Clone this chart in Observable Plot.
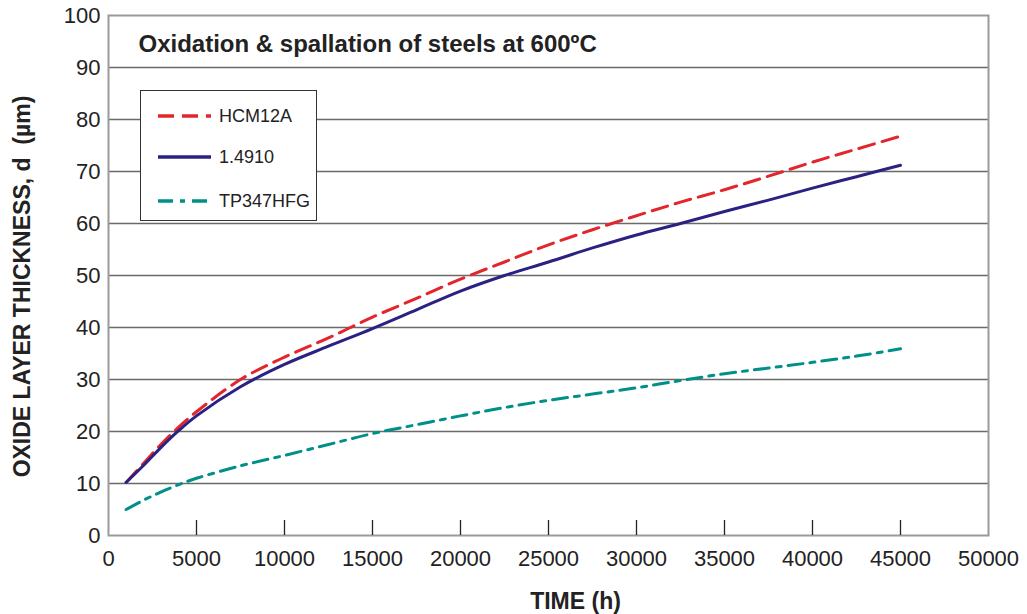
<!DOCTYPE html>
<html><head><meta charset="utf-8">
<script src="https://cdn.jsdelivr.net/npm/d3@7"></script>
<script src="https://cdn.jsdelivr.net/npm/@observablehq/plot@0.6"></script>
<style>
body{margin:0;background:#fff;font-family:"Liberation Sans",Arial,sans-serif;}
#wrap{position:relative;width:1027px;height:614px;overflow:hidden;}
#legend{position:absolute;left:140px;top:90px;width:175px;height:129px;background:#fff;border:1.6px solid #333;}
#legend .item{position:absolute;left:0;height:20px;display:flex;align-items:center;}
#legend svg{margin-left:17px;}
#legend span{margin-left:8px;font-size:18px;color:#222;}
</style></head><body><div id="wrap"></div>
<script>
const hours = [1000, 2000, 3000, 4000, 5000, 7500, 10000, 12500, 15000, 17500, 20000, 22500, 25000, 27500, 30000, 32500, 35000, 37500, 40000, 42500, 45000];
const hcm12a = [10.2, 13.9, 17.6, 20.9, 23.8, 30.0, 34.3, 38.0, 42.0, 45.6, 49.3, 52.6, 55.9, 58.8, 61.5, 64.1, 66.5, 69.1, 71.8, 74.3, 76.8];
const steel14910 = [10.2, 13.5, 17.0, 20.2, 23.0, 28.6, 32.9, 36.4, 39.8, 43.4, 47.0, 50.0, 52.6, 55.3, 57.8, 60.0, 62.3, 64.5, 66.8, 69.0, 71.2];
const tp347hfg = [5.0, 6.8, 8.4, 9.8, 11.0, 13.4, 15.4, 17.5, 19.6, 21.3, 23.0, 24.6, 26.0, 27.2, 28.4, 29.8, 31.1, 32.2, 33.3, 34.5, 35.9];
const seriesNames = ["HCM12A", "1.4910", "TP347HFG"];
const seriesValues = [hcm12a, steel14910, tp347hfg];
const colors = ["#e2262b", "#2b2183", "#009089"];
const dashes = ["16,8", "none", "15,7,5,7"];
const xTicks = [0, 5000, 10000, 15000, 20000, 25000, 30000, 35000, 40000, 45000, 50000];
const yTicks = [0, 10, 20, 30, 40, 50, 60, 70, 80, 90, 100];
const title = "Oxidation & spallation of steels at 600ºC";
const xTitle = "TIME (h)";
const yTitle = "OXIDE LAYER THICKNESS, d  (µm)";

const FONT = '"Liberation Sans", Arial, sans-serif';

const lineMarks = seriesNames.map((name, i) =>
  Plot.line(hours.map((t, j) => ({t, v: seriesValues[i][j], s: name})), {
    x: "t", y: "v", stroke: colors[i], strokeWidth: 3,
    strokeDasharray: dashes[i] === "none" ? undefined : dashes[i],
    curve: "catmull-rom"
  })
);

const chart = Plot.plot({
  width: 1027, height: 614,
  marginLeft: 108, marginTop: 15, marginRight: 39, marginBottom: 79,
  style: {fontFamily: FONT, fontSize: "22px", color: "#222", background: "#fff"},
  x: {domain: [0, 50000]},
  y: {domain: [0, 100]},
  marks: [
    Plot.gridY(yTicks.slice(1, -1), {stroke: "#6a6a6a", strokeOpacity: 1, strokeWidth: 1.6}),
    Plot.frame({stroke: "#9a9a9a", strokeWidth: 2}),
    Plot.ruleX(xTicks.slice(1, -1), {insetTop: 505, stroke: "#222", strokeWidth: 1.3}),
    Plot.axisX(xTicks, {tickSize: 0, tickPadding: 15, fontSize: 22, tickFormat: d => String(d), label: null}),
    Plot.axisY(yTicks, {tickSize: 0, tickPadding: 8, fontSize: 22, tickFormat: d => String(d), label: null}),
    ...lineMarks,
    Plot.text([title], {frameAnchor: "top-left", dx: 30, dy: 29, textAnchor: "start", lineAnchor: "middle", fontSize: 24, fontWeight: "bold", fill: "#222"}),
    Plot.text([xTitle], {frameAnchor: "bottom", dx: 27, dy: 66, textAnchor: "middle", lineAnchor: "middle", fontSize: 23, fontWeight: "bold", fill: "#222"}),
    Plot.text([yTitle], {frameAnchor: "left", dx: -86, dy: 11, rotate: -90, textAnchor: "middle", lineAnchor: "middle", fontSize: 23, fontWeight: "bold", fill: "#222"})
  ]
});

const wrap = document.getElementById("wrap");
wrap.appendChild(chart);

// legend
const legend = document.createElement("div");
legend.id = "legend";
const tops = [15, 56, 100];
seriesNames.forEach((name, i) => {
  const item = document.createElement("div");
  item.className = "item";
  item.style.top = tops[i] + "px";
  const dash = dashes[i] === "none" ? "" : `stroke-dasharray="${dashes[i]}"`;
  item.innerHTML = `<svg width="53" height="8"><line x1="0" x2="53" y1="4" y2="4" stroke="${colors[i]}" stroke-width="3.5" ${dash}/></svg><span>${name}</span>`;
  legend.appendChild(item);
});
wrap.appendChild(legend);
</script>
</body></html>
